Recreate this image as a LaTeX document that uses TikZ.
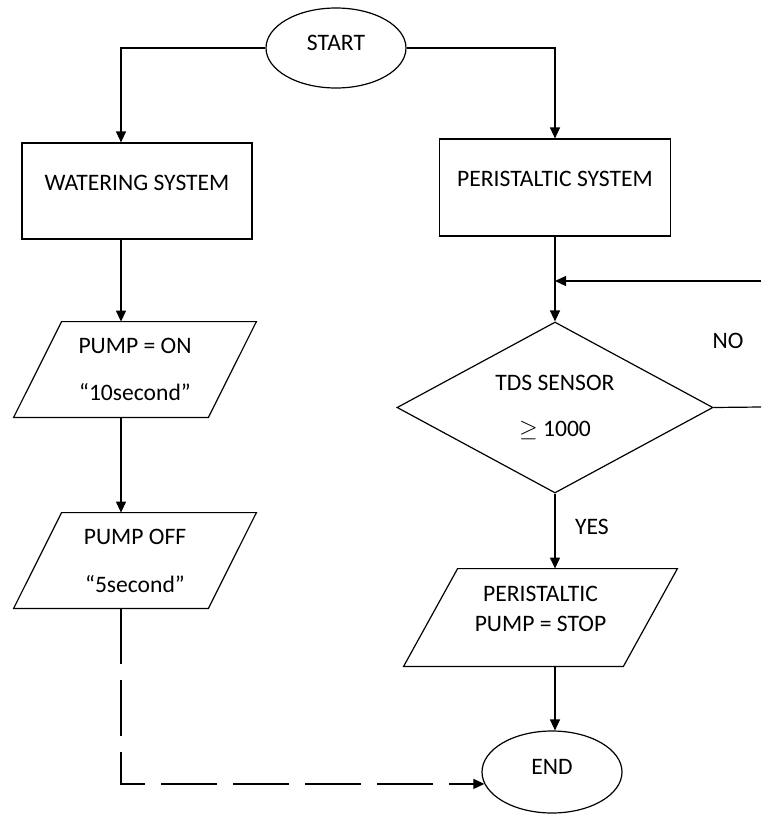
\documentclass[tikz,border=0pt]{standalone}
\usepackage{fontspec}
\setmainfont{Carlito}
\usepackage{tikz}
\usetikzlibrary{shapes.geometric,arrows.meta,positioning}

% paralelogramo alrededor de un nodo: #1 nodo, #2 desplazamiento
\newcommand{\paralelo}[2]{%
  \draw[line width=0.6pt] ([xshift=#2]#1.north west) -- ([xshift=#2]#1.north east)
    -- ([xshift=-#2]#1.south east) -- ([xshift=-#2]#1.south west) -- cycle;}

\begin{document}
\begin{tikzpicture}[x=0.5pt,y=-0.5pt,
  >={Triangle[length=5.5pt,width=5pt]},
  every node/.style={font=\fontsize{11.8}{14}\selectfont},
  linea/.style={line width=0.6pt},
  terminal/.style={ellipse,draw,line width=0.6pt,minimum width=70pt,minimum height=40pt,inner sep=0pt,text height=7.5pt,text depth=5.5pt},
  proceso/.style={rectangle,draw,line width=0.6pt,minimum width=115pt,minimum height=48pt,text height=7.5pt,text depth=8.5pt},
  datos/.style={rectangle,align=center,inner sep=0pt,minimum width=97pt,minimum height=47.5pt},
  decision/.style={diamond,draw,line width=0.6pt,align=center,aspect=1.86,inner sep=0pt,minimum width=158pt,minimum height=85.5pt}]
  \useasboundingbox (0,0) rectangle (761,814);

  % Inicio y columnas de conectores
  \node[terminal] (start) at (336,48) {START};
  \coordinate (izq) at (121,0);
  \coordinate (der) at (555,0);

  % Rama izquierda: riego
  \node[proceso] (water) at (137,191) {WATERING SYSTEM};
  \node[datos] (pon) at (135,369.5) {PUMP = ON\\[9.5pt]“10second”};
  \paralelo{pon}{12pt}
  \node[datos] (poff) at (135,560.5) {PUMP OFF\\[10pt]“5second”};
  \paralelo{poff}{12pt}

  % Rama derecha: peristáltica
  \node[proceso,minimum width=115.5pt,minimum height=48.5pt] (peri) at (555,187.5) {PERISTALTIC SYSTEM};
  \node[decision] (dec) at (555,407.5) {TDS SENSOR\\[9pt]$\geq$ 1000};
  \node[datos,minimum width=109.5pt,minimum height=48.5pt] (par3) at (540.5,617.5) {PERISTALTIC\\[1pt]PUMP = STOP\\[-5pt]};
  \paralelo{par3}{13.5pt}
  \node[terminal,minimum height=41pt] (end) at (552,772) {END};

  % Salida del lazo (fuera del recorte)
  \coordinate (bucle) at (761,281);
  \coordinate (salida) at (761,407);

  % Conectores izquierda
  \draw[linea,->] (start.west) -| (water.north -| izq);
  \draw[linea,->] (water.south -| izq) -- (pon.north -| izq);
  \draw[linea,->] (pon.south -| izq) -- (poff.north -| izq);
  \draw[linea,->,dash pattern=on 28pt off 8pt] (poff.south -| izq) |- (end.190);

  % Conectores derecha
  \draw[linea,->] (start.east) -| (peri.north -| der);
  \draw[linea,->] (peri.south -| der) -- (dec.north);
  \draw[linea,->] (bucle) -- (bucle -| der);
  \draw[linea] (dec.east) -- (salida);
  \node (no) at (728,341) {NO};
  \draw[linea,->] (dec.south) -- (par3.north -| der);
  \node (yes) at (592,527) {YES};
  \draw[linea,->] (par3.south -| der) -- (end.north -| der);

\end{tikzpicture}
\end{document}
